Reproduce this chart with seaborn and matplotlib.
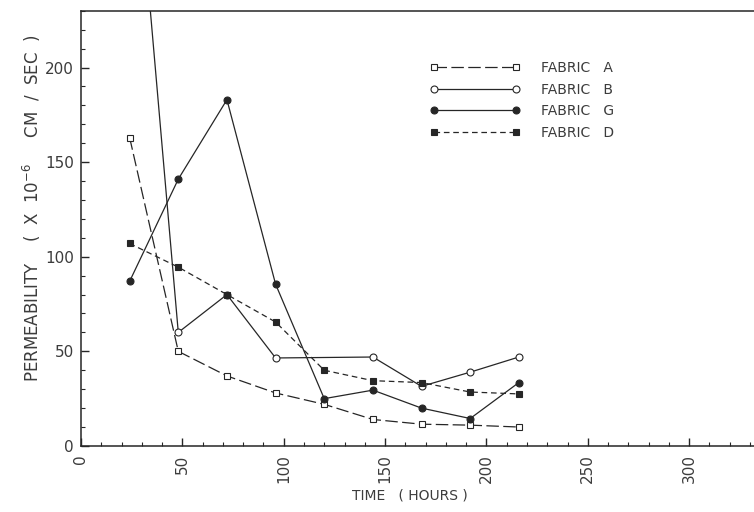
import matplotlib
matplotlib.use("Agg")
import matplotlib.pyplot as plt
from matplotlib.lines import Line2D
from matplotlib.ticker import MultipleLocator
import seaborn as sns

# Readings (time in hours, permeability x 1e-6 cm/sec)
hours = [24, 48, 72, 96, 120, 144, 168, 192, 216]
hours_b = [24, 48, 72, 96, 144, 168, 192, 216]

fabric_a = [163, 50, 37, 28, 22, 14, 11.5, 11, 10]
fabric_b = [356, 60, 80, 46.5, 47, 31.5, 39, 47]
fabric_g = [87, 141, 183, 85.5, 25, 29.5, 20, 14.5, 33.5]
fabric_d = [107, 94.5, 80, 65.5, 40, 34.5, 33.5, 28.5, 27.5]

legend_labels = ["FABRIC   A", "FABRIC   B", "FABRIC   G", "FABRIC   D"]

sns.set_style("ticks")
plt.rcParams["font.family"] = ["DejaVu Sans"]

ink = "#262626"
txt = "#3c3c3c"

fig, ax = plt.subplots(figsize=(7.54, 5.12), dpi=100)
fig.subplots_adjust(left=0.1074, right=1.0, bottom=0.129, top=0.979)

styles = [
    dict(marker="s", markerfacecolor="white", linestyle=(0, (10, 3.5))),
    dict(marker="o", markerfacecolor="white", linestyle="-"),
    dict(marker="o", markerfacecolor=ink, linestyle="-"),
    dict(marker="s", markerfacecolor=ink, linestyle=(0, (4.5, 3))),
]
series = [(hours, fabric_a), (hours_b, fabric_b), (hours, fabric_g), (hours, fabric_d)]

for (xs, ys), st in zip(series, styles):
    sns.lineplot(x=xs, y=ys, ax=ax, color=ink, lw=0.9, markersize=5,
                 markeredgecolor=ink, markeredgewidth=0.8, **st)

ax.set_xlim(0, 332)
ax.set_ylim(0, 230)

ax.xaxis.set_major_locator(MultipleLocator(50))
ax.xaxis.set_minor_locator(MultipleLocator(10))
ax.yaxis.set_major_locator(MultipleLocator(50))
ax.yaxis.set_minor_locator(MultipleLocator(10))
ax.tick_params(which="both", direction="in", top=False, right=False,
               colors=ink, labelcolor=txt, labelsize=11)
ax.tick_params(which="major", length=6, width=1)
ax.tick_params(which="minor", length=3, width=0.8)
ax.tick_params(axis="x", labelrotation=90, pad=6)
ax.tick_params(axis="y", pad=5)

for side in ["left", "bottom", "top"]:
    ax.spines[side].set_color(ink)
    ax.spines[side].set_linewidth(1.1)
ax.spines["right"].set_visible(False)

ax.set_xlabel("TIME   ( HOURS )", fontsize=10, color=txt)
ax.xaxis.set_label_coords(0.489, -0.098)
ax.set_ylabel("PERMEABILITY    (  X  10$^{-6}$     CM  /  SEC  )", fontsize=12, color=txt)
ax.yaxis.set_label_coords(-0.056, 0.547)

handles = [Line2D([0], [0], color=ink, lw=0.9, markersize=5,
                  markeredgecolor=ink, markeredgewidth=0.8, **st) for st in styles]
leg = ax.legend(handles, legend_labels, loc="upper left",
                bbox_to_anchor=(0.570, 0.881), bbox_transform=fig.transFigure,
                frameon=False, numpoints=2, handlelength=6.5, handletextpad=1.5,
                labelspacing=0.55, fontsize=10, borderpad=0, borderaxespad=0)
for t in leg.get_texts():
    t.set_color(txt)

fig.savefig("out.png", dpi=100)
